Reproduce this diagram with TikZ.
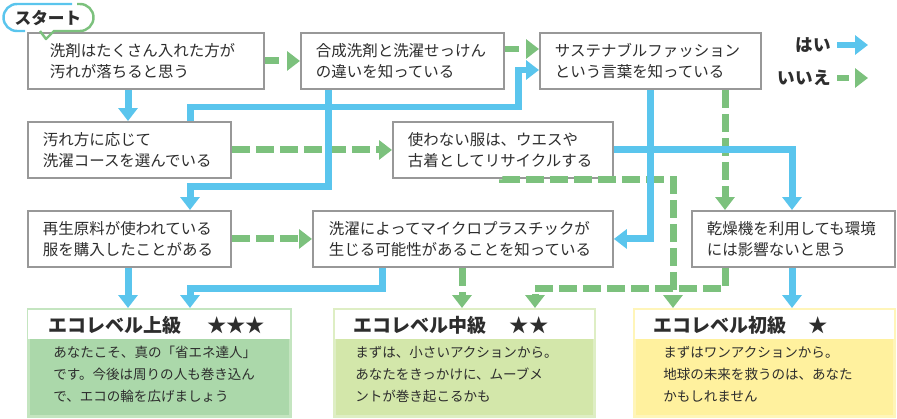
\documentclass[tikz,border=0pt]{standalone}
\usepackage{fontspec}
\setmainfont{Noto Sans CJK JP}
\usetikzlibrary{arrows.meta}
\definecolor{yescol}{RGB}{90,197,237}
\definecolor{nocol}{RGB}{124,193,125}
\definecolor{boxline}{RGB}{152,152,152}
\definecolor{textcol}{RGB}{45,45,45}
\definecolor{hifill}{RGB}{171,216,170}
\definecolor{hiline}{RGB}{196,229,192}
\definecolor{midfill}{RGB}{211,231,170}
\definecolor{midline}{RGB}{222,238,196}
\definecolor{lofill}{RGB}{255,241,158}
\definecolor{loline}{RGB}{255,245,185}

\begin{document}
\begin{tikzpicture}[x=0.02cm,y=-0.02cm,
	question/.style={draw=boxline,line width=1.1pt,fill=white,anchor=north west,align=left,
	inner xsep=0.3cm,inner ysep=0pt,minimum height=1.12cm,text=textcol,font=\fontsize{8.8}{12}\selectfont},
	yes/.style={yescol,line width=0.14cm,-{Triangle[width=0.38cm,length=0.26cm]}},
	no/.style={nocol,line width=0.14cm,dash pattern=on 0.36cm off 0.12cm,-{Triangle[width=0.38cm,length=0.26cm]}},
	short/.style={dash pattern=on 0.28cm off 0.3cm},
	result/.style={line width=1.6pt,anchor=north west,minimum height=2.14cm,inner sep=0pt},
	level/.style={anchor=west,inner sep=0pt,text=textcol,font=\fontsize{10.8}{13}\selectfont\bfseries},
	stars/.style={inner sep=0pt,text=textcol,font=\fontsize{11}{13}\selectfont},
	comment/.style={anchor=north west,align=left,inner sep=0pt,text=textcol,font=\fontsize{7.7}{12.5}\selectfont},
	legend/.style={anchor=east,inner sep=0pt,text=textcol,font=\fontsize{10}{12}\selectfont\bfseries}]
\useasboundingbox (0,0) rectangle (897,419);

\node[question,inner xsep=0.44cm,text width=3.84cm] (q1) at (27,32) {洗剤はたくさん入れた方が\\汚れが落ちると思う};
\node[question,text width=3.46cm] (q2) at (300,32) {合成洗剤と洗濯せっけん\\の違いを知っている};
\node[question,text width=3.82cm] (q3) at (539,32) {サステナブルファッション\\という言葉を知っている};
\node[question,text width=3.46cm] (q4) at (27,121) {汚れ方に応じて\\洗濯コースを選んでいる};
\node[question,text width=3.8cm] (q5) at (392,121) {使わない服は、ウエスや\\古着としてリサイクルする};
\node[question,text width=3.46cm] (q6) at (27,210) {再生原料が使われている\\服を購入したことがある};
\node[question,inner xsep=0.32cm,text width=5.36cm] (q7) at (312,210) {洗濯によってマイクロプラスチックが\\生じる可能性があることを知っている};
\node[question,text width=3.46cm] (q8) at (691,210) {乾燥機を利用しても環境\\には影響ないと思う};

\node[result,draw=hiline,fill=hifill,minimum width=5.24cm] (r1) at (27,308) {};
\node[result,draw=midline,fill=midfill,minimum width=5.2cm] (r2) at (333,308) {};
\node[result,draw=loline,fill=lofill,minimum width=5.2cm] (r3) at (633,308) {};
\foreach \r in {r1,r2,r3}
	\fill[white] ([xshift=0.03cm,yshift=-0.03cm]\r.north west) rectangle ([xshift=-0.03cm,yshift=-0.62cm]\r.north east);

\node[level] (r1t) at (48,325) {エコレベル上級};
\node[stars] (r1s) at (236,325) {★★★};
\node[comment] (r1c) at (53,346) {あなたこそ、真の「省エネ達人」\\です。今後は周りの人も巻き込ん\\で、エコの輪を広げましょう};
\node[level] (r2t) at (353,325) {エコレベル中級};
\node[stars] (r2s) at (529,325) {★★};
\node[comment] (r2c) at (355,346) {まずは、小さいアクションから。\\あなたをきっかけに、ムーブメ\\ントが巻き起こるかも};
\node[level] (r3t) at (653,325) {エコレベル初級};
\node[stars] (r3s) at (818,325) {★};
\node[comment] (r3c) at (663,346) {まずはワンアクションから。\\地球の未来を救うのは、あなた\\かもしれません};

\draw[no,short] (q1.east) -- (q2.west);
\draw[no,short] (q2.east |- 0,49) -- (q3.west |- 0,49);
\draw[no] (q4.east) -- (q5.west);
\draw[no] (q3.south -| 725,0) -- (q8.north -| 725,0);
\draw[no] (q5.south -| 502,0) |- (673,179) -- (r3.north -| 673,0);
\draw[no] (q6.east) -- (q7.west);
\draw[no] (q8.south -| 725,0) |- (535,288) -- (r2.north -| 535,0);
\draw[no] (q7.south -| 462,0) -- (r2.north -| 462,0);

\draw[yes] (q1.south -| 128,0) -- (q4.north -| 128,0);
\draw[yes] (q4.north -| 190,0) |- (518,107) |- (q3.west |- 0,70);
\draw[yes] (q2.south -| 328,0) |- (190,186) -- (q6.north -| 190,0);
\draw[yes] (q3.south -| 650,0) |- (q7.east);
\draw[yes] (q5.east) -| (q8.north -| 792,0);
\draw[yes] (q6.south -| 128,0) -- (r1.north -| 128,0);
\draw[yes] (q7.south -| 382,0) |- (190,288) -- (r1.north -| 190,0);
\draw[yes] (q8.south -| 792,0) -- (r3.north -| 792,0);

\node[legend] (lyes) at (831,45) {はい};
\node[legend] (lno) at (831,78) {いいえ};
\coordinate (lyesend) at (868,45);
\coordinate (lnoend) at (868,78);
\draw[yes] ([xshift=0.12cm]lyes.east) -- (lyesend);
\draw[no,dash pattern=on 0.24cm off 0.2cm] ([xshift=0.12cm]lno.east) -- (lnoend);

\draw[yescol,line width=1.4pt] (25,31) -- (17,31) arc[start angle=270,end angle=90,radius=0.27cm] -- (72,4);
\draw[nocol,line width=1.4pt,line join=round] (77,4) -- (80,4) arc[start angle=90,end angle=-90,radius=0.27cm] -- (54,31) -- (46,39) -- (40,31);
\node[inner sep=0pt,text=textcol,font=\fontsize{9.5}{11}\selectfont\bfseries] (start) at (48,18) {スタート};
\end{tikzpicture}
\end{document}
